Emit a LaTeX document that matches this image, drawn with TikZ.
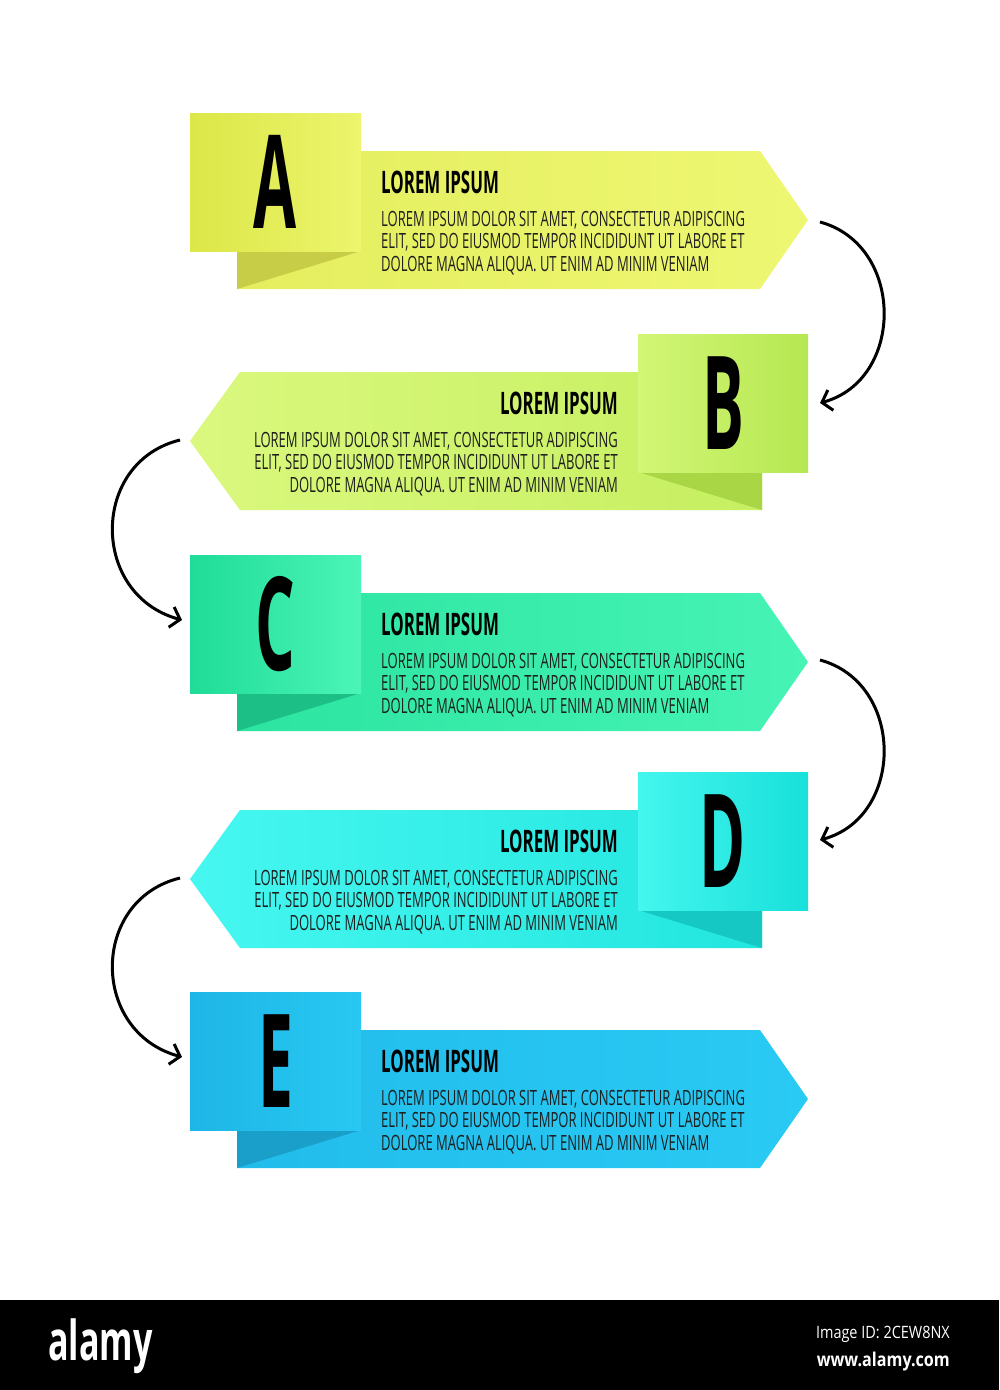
\documentclass[tikz,border=0pt]{standalone}
\usepackage{fontspec}
\newfontfamily\bodyfont[FakeStretch=0.62]{Open Sans}
\newfontfamily\headfont[FakeStretch=0.545]{Open Sans}
\newfontfamily\letterfont[FakeStretch=0.48]{Open Sans}
\newfontfamily\logofont[FakeStretch=0.62]{Open Sans}
\newfontfamily\markfont[FakeStretch=0.85]{Open Sans}
\usetikzlibrary{arrows.meta, positioning}

% colours: square left/right, banner left/right, fold shadow
\definecolor{aSqL}{HTML}{DCE748}\definecolor{aSqR}{HTML}{ECF56C}
\definecolor{aBnL}{HTML}{E4EE5E}\definecolor{aBnR}{HTML}{EEF772}
\definecolor{aSh}{HTML}{C8CD48}
\definecolor{bSqL}{HTML}{D2F675}\definecolor{bSqR}{HTML}{B6E852}
\definecolor{bBnL}{HTML}{DAF87E}\definecolor{bBnR}{HTML}{C6EF60}
\definecolor{bSh}{HTML}{A8D645}
\definecolor{cSqL}{HTML}{1FDC98}\definecolor{cSqR}{HTML}{4BF5B8}
\definecolor{cBnL}{HTML}{2CE4A0}\definecolor{cBnR}{HTML}{46F4B6}
\definecolor{cSh}{HTML}{1CC086}
\definecolor{dSqL}{HTML}{44F6EE}\definecolor{dSqR}{HTML}{18E0DA}
\definecolor{dBnL}{HTML}{46F7F0}\definecolor{dBnR}{HTML}{22E6DF}
\definecolor{dSh}{HTML}{16C8C3}
\definecolor{eSqL}{HTML}{1EB6E6}\definecolor{eSqR}{HTML}{28C8F2}
\definecolor{eBnL}{HTML}{22BCEB}\definecolor{eBnR}{HTML}{29CAF4}
\definecolor{eSh}{HTML}{1A9FCB}
\definecolor{bodytext}{HTML}{1E1E1E}

\tikzset{
  letter/.style={inner sep=0pt, font=\letterfont\bfseries\fontsize{130}{130}\selectfont},
  head/.style={inner sep=0pt, font=\headfont\bfseries\fontsize{31}{31}\selectfont},
  body/.style={inner sep=0pt, text=bodytext, font=\bodyfont\fontsize{21}{22}\selectfont},
  flow/.style={line width=3pt, -{Straight Barb[length=9pt,width=21pt]}}
}

% step pointing right: name, top y, letter, colour prefix
\newcommand{\rightstep}[4]{%
  \shade[left color=#4BnL, right color=#4BnR] (237,#2+38) -- (760,#2+38) -- (808,#2+107) -- (760,#2+176) -- (237,#2+176) -- cycle;
  \fill[#4Sh] (237,#2+138) -- (361,#2+138) -- (237,#2+176) -- cycle;
  \shade[left color=#4SqL, right color=#4SqR] (190,#2) rectangle (361,#2+138);
  \node[letter] (#1) at (275.5,#2+69) {#3};
  \node[head, anchor=base west] (#1-head) at (381,#2+80) {LOREM IPSUM};
  \node[body, anchor=base west] (#1-l1) at (381,#2+113) {LOREM IPSUM DOLOR SIT AMET, CONSECTETUR ADIPISCING};
  \node[body, anchor=base west] (#1-l2) at (381,#2+135) {ELIT, SED DO EIUSMOD TEMPOR INCIDIDUNT UT LABORE ET};
  \node[body, anchor=base west] (#1-l3) at (381,#2+158) {DOLORE MAGNA ALIQUA. UT ENIM AD MINIM VENIAM};
}
% step pointing left
\newcommand{\leftstep}[4]{%
  \shade[left color=#4BnL, right color=#4BnR] (762,#2+38) -- (240,#2+38) -- (190,#2+107) -- (240,#2+176) -- (762,#2+176) -- cycle;
  \fill[#4Sh] (638,#2+138) -- (762,#2+138) -- (762,#2+176) -- cycle;
  \shade[left color=#4SqL, right color=#4SqR] (638,#2) rectangle (808,#2+138);
  \node[letter] (#1) at (723,#2+69) {#3};
  \node[head, anchor=base east] (#1-head) at (618,#2+80) {LOREM IPSUM};
  \node[body, anchor=base east] (#1-l1) at (618,#2+113) {LOREM IPSUM DOLOR SIT AMET, CONSECTETUR ADIPISCING};
  \node[body, anchor=base east] (#1-l2) at (618,#2+135) {ELIT, SED DO EIUSMOD TEMPOR INCIDIDUNT UT LABORE ET};
  \node[body, anchor=base east] (#1-l3) at (618,#2+158) {DOLORE MAGNA ALIQUA. UT ENIM AD MINIM VENIAM};
}

\begin{document}
\begin{tikzpicture}[x=1pt, y=-1pt]
  \useasboundingbox[fill=white] (0,0) rectangle (999,1390);

  \rightstep{A}{113}{A}{a}
  \leftstep{B}{334}{B}{b}
  \rightstep{C}{555}{C}{c}
  \leftstep{D}{772}{D}{d}
  \rightstep{E}{992}{E}{e}

  % arrow ends
  \coordinate (A-out) at (820,222);
  \coordinate (B-in)  at (820,403);
  \coordinate (B-out) at (180,440);
  \coordinate (C-in)  at (182,620);
  \coordinate (C-out) at (820,660);
  \coordinate (D-in)  at (820,840);
  \coordinate (D-out) at (180,878);
  \coordinate (E-in)  at (182,1057);

  \draw[flow] (A-out) .. controls +(85,23) and +(85,-23) .. (B-in);
  \draw[flow] (B-out) .. controls +(-90,22) and +(-92,-25) .. (C-in);
  \draw[flow] (C-out) .. controls +(85,23) and +(85,-23) .. (D-in);
  \draw[flow] (D-out) .. controls +(-90,22) and +(-92,-25) .. (E-in);

  % footer bar
  \fill[black] (0,1300) rectangle (999,1390);
  \node[inner sep=0pt, anchor=base west, text=white, font=\logofont\bfseries\fontsize{55}{55}\selectfont] (logo) at (48,1360) {alamy};
  \node[inner sep=0pt, anchor=base east, text=white, font=\markfont\fontsize{17}{17}\selectfont] (imgid) at (950,1338) {Image ID: 2CEW8NX};
  \node[inner sep=0pt, anchor=base east, text=white, font=\markfont\bfseries\fontsize{19}{19}\selectfont] (site) at (950,1366) {www.alamy.com};
\end{tikzpicture}
\end{document}
